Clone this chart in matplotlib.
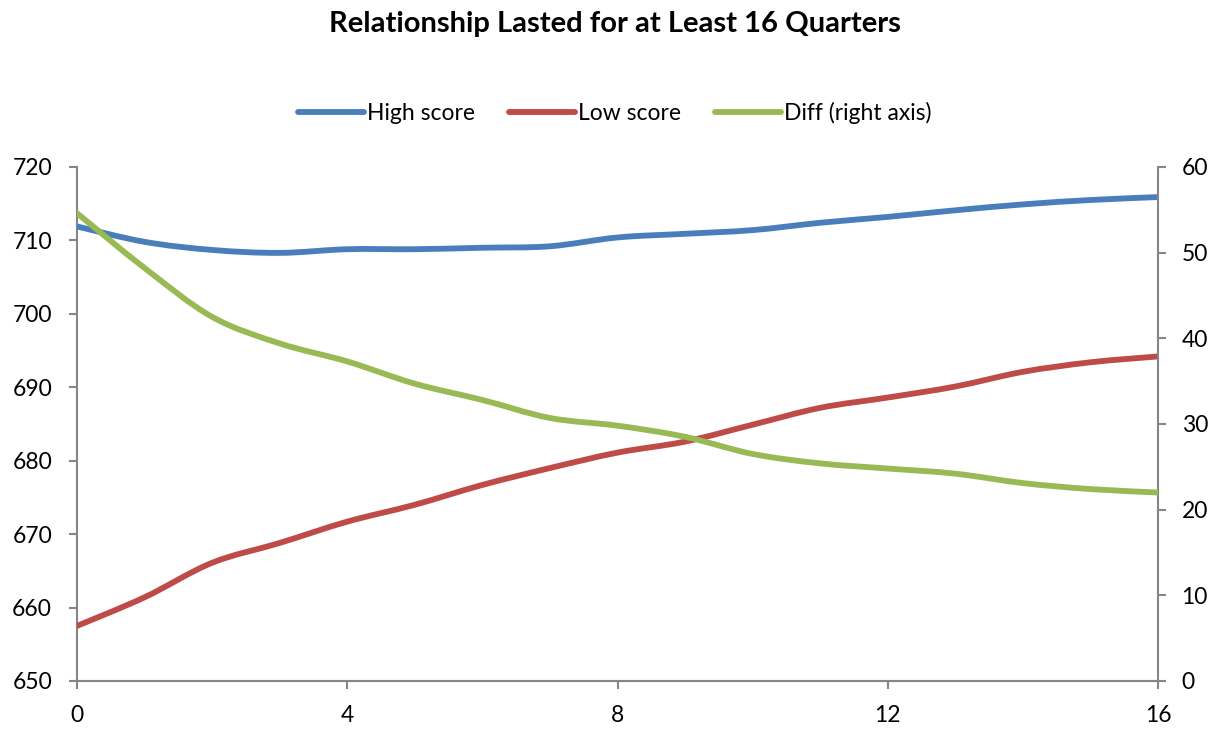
import numpy as np
import matplotlib
matplotlib.use('Agg')
import matplotlib.pyplot as plt
from matplotlib.path import Path
from matplotlib.patches import PathPatch
from matplotlib.lines import Line2D

plt.rcParams['font.family'] = ['Lato', 'DejaVu Sans']

# Quarters since start of relationship
quarters = list(range(17))

high_score = [711.9, 709.8, 708.7, 708.3, 708.8, 708.8, 709.0, 709.2, 710.4,
              710.9, 711.4, 712.4, 713.2, 714.1, 714.9, 715.5, 715.9]
low_score = [657.5, 661.4, 666.1, 668.8, 671.7, 674.0, 676.7, 679.0, 681.1,
             682.6, 684.9, 687.2, 688.6, 690.1, 692.1, 693.4, 694.2]
diff = [54.6, 48.2, 42.5, 39.4, 37.3, 34.7, 32.8, 30.7, 29.8,
        28.5, 26.5, 25.4, 24.8, 24.2, 23.1, 22.4, 22.0]

BLUE = '#4A7EBB'
RED = '#BE4B48'
GREEN = '#98B954'
AXIS_GRAY = '#868686'
LW = 4.2
FS = 16.5


def smooth_path(x, y, tension=1 / 6):
    """Bezier path through the points, same idea as a spreadsheet 'smoothed line'."""
    x = np.asarray(x, float)
    y = np.asarray(y, float)
    verts = [(x[0], y[0])]
    codes = [Path.MOVETO]
    n = len(x)
    for i in range(n - 1):
        p0 = (x[max(i - 1, 0)], y[max(i - 1, 0)])
        p1 = (x[i], y[i])
        p2 = (x[i + 1], y[i + 1])
        p3 = (x[min(i + 2, n - 1)], y[min(i + 2, n - 1)])
        c1 = (p1[0] + (p2[0] - p0[0]) * tension, p1[1] + (p2[1] - p0[1]) * tension)
        c2 = (p2[0] - (p3[0] - p1[0]) * tension, p2[1] - (p3[1] - p1[1]) * tension)
        verts += [c1, c2, p2]
        codes += [Path.CURVE4] * 3
    return Path(verts, codes)


def draw_smooth(ax, x, y, color):
    patch = PathPatch(smooth_path(x, y), facecolor='none', edgecolor=color,
                      lw=LW, capstyle='round', joinstyle='round', zorder=3)
    ax.add_patch(patch)


fig = plt.figure(figsize=(12.29, 7.32), dpi=100)
ax = fig.add_axes([0.0627, 0.0697, 0.8795, 0.7022])
ax2 = ax.twinx()

draw_smooth(ax, quarters, high_score, BLUE)
draw_smooth(ax, quarters, low_score, RED)
draw_smooth(ax2, quarters, diff, GREEN)

ax.set_xlim(0, 16)
ax.set_ylim(650, 720)
ax2.set_ylim(0, 60)
ax.set_xticks([0, 4, 8, 12, 16])
ax.set_yticks(range(650, 721, 10))
ax2.set_yticks(range(0, 61, 10))

for a in (ax, ax2):
    a.spines['top'].set_visible(False)
    for s in ('left', 'right', 'bottom'):
        a.spines[s].set_color(AXIS_GRAY)
        a.spines[s].set_linewidth(1.5)
    a.tick_params(colors=AXIS_GRAY, length=6, width=1.5, labelsize=FS,
                  labelcolor='black', pad=12)
ax.tick_params(axis='x', pad=11)
ax2.tick_params(axis='y', pad=11)
ax.spines['right'].set_visible(False)
ax2.spines['left'].set_visible(False)

fig.text(0.5, 0.967, 'Relationship Lasted for at Least 16 Quarters',
         fontsize=21, fontweight='bold', ha='center', va='center')

handles = [Line2D([], [], color=c, lw=LW, solid_capstyle='round')
           for c in (BLUE, RED, GREEN)]
fig.legend(handles, ['High score', 'Low score', 'Diff (right axis)'],
           loc='center', bbox_to_anchor=(0.5, 0.846), ncol=3, frameon=False,
           fontsize=FS, handlelength=2.9, handletextpad=0.1, columnspacing=1.5)

fig.savefig('out.png', dpi=100)
